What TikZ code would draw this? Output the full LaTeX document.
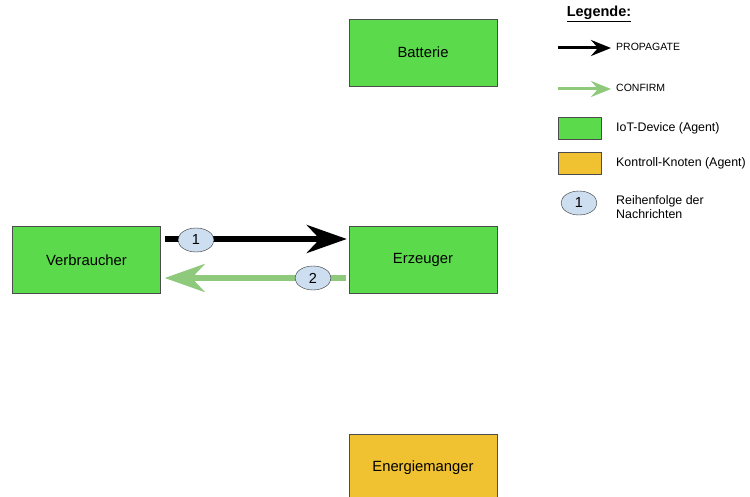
\documentclass[tikz,border=0pt]{standalone}
\usepackage{fontspec}
\setmainfont{Liberation Sans}
\usetikzlibrary{arrows.meta,positioning,shapes.geometric}
\definecolor{agentgreen}{HTML}{5BDA4C}
\definecolor{kontrollgelb}{HTML}{F0C232}
\definecolor{confirmgruen}{HTML}{8FC97C}
\definecolor{nummerblau}{HTML}{CCDEF0}
\newcommand{\boxw}{148pt}
\newcommand{\boxh}{67pt}

\begin{document}
\begin{tikzpicture}[x=1pt, y=-1pt,
    agent/.style={draw=black!70, fill=agentgreen, minimum width=\boxw, minimum height=\boxh, font=\fontsize{14.8}{17}\selectfont},
    kontroll/.style={agent, fill=kontrollgelb},
    nummer/.style={draw=black!80, fill=nummerblau, ellipse, minimum width=36pt, minimum height=24pt, inner sep=0pt, font=\fontsize{14.5}{17}\selectfont},
    propagate/.style={line width=6pt, -{Stealth[length=40pt, width=28pt, inset=13pt]}},
    confirm/.style={propagate, draw=confirmgruen},
    legpfeil/.style={line width=3pt, -{Stealth[length=20pt, width=16pt, inset=7pt]}},
    legtext/.style={anchor=west, font=\fontsize{12.4}{14.5}\selectfont, align=left, inner sep=2pt}]
        \useasboundingbox (0, 0) rectangle (750, 497);
        \begin{scope}
        \clip (0, 0) rectangle (750, 497);
        % Knoten
        \node[agent] (batterie) at (423, 52.5) {Batterie};
        \node[agent] (verbraucher) at (86.5, 260) {Verbraucher};
        \node[agent] (erzeuger) at (423, 260) {Erzeuger};
        \node[kontroll] (manager) at (423, 468) {Energiemanger};
        \end{scope}
        
        % Nachrichten
        \coordinate (p1) at ([xshift=4pt, yshift=21pt]verbraucher.east);
        \coordinate (p2) at ([xshift=-2pt, yshift=21pt]erzeuger.west);
        \coordinate (c1) at ([xshift=-3pt, yshift=-18pt]erzeuger.west);
        \coordinate (c2) at ([xshift=4pt, yshift=-18pt]verbraucher.east);
        \draw[propagate] (p1) -- (p2);
        \draw[confirm] (c1) -- (c2);
        \node[nummer] (n1) at (196, 240) {1};
        \node[nummer] (n2) at (313, 278) {2};
        
        % Legende
        \node[font=\fontsize{14.5}{17}\selectfont\bfseries] (legende) at (599, 14) {\underline{Legende:}};
        \coordinate (lp1) at (558, 48);
        \coordinate (lp2) at (611, 48);
        \draw[legpfeil] (lp1) -- (lp2);
        \node[legtext, font=\fontsize{10.5}{12}\selectfont] (ltprop) at (614, 47) {PROPAGATE};
        \coordinate (lc1) at (558, 89);
        \coordinate (lc2) at (611, 89);
        \draw[legpfeil, draw=confirmgruen] (lc1) -- (lc2);
        \node[legtext, font=\fontsize{10.5}{12}\selectfont] (ltconf) at (614, 88) {CONFIRM};
        \node[draw=black!70, fill=agentgreen, minimum width=43pt, minimum height=22pt, anchor=north west] (lagent) at (558, 117) {};
        \node[legtext] (ltagent) at (614, 128) {IoT-Device (Agent)};
        \node[draw=black!70, fill=kontrollgelb, minimum width=43pt, minimum height=22pt, anchor=north west] (lkontroll) at (558, 152) {};
        \node[legtext] (ltkontroll) at (614, 163) {Kontroll-Knoten (Agent)};
        \node[nummer] (lnummer) at (579, 203) {1};
        \node[legtext] (ltnummer) at (614, 207) {Reihenfolge der\\Nachrichten};
    \end{tikzpicture}
\end{document}
